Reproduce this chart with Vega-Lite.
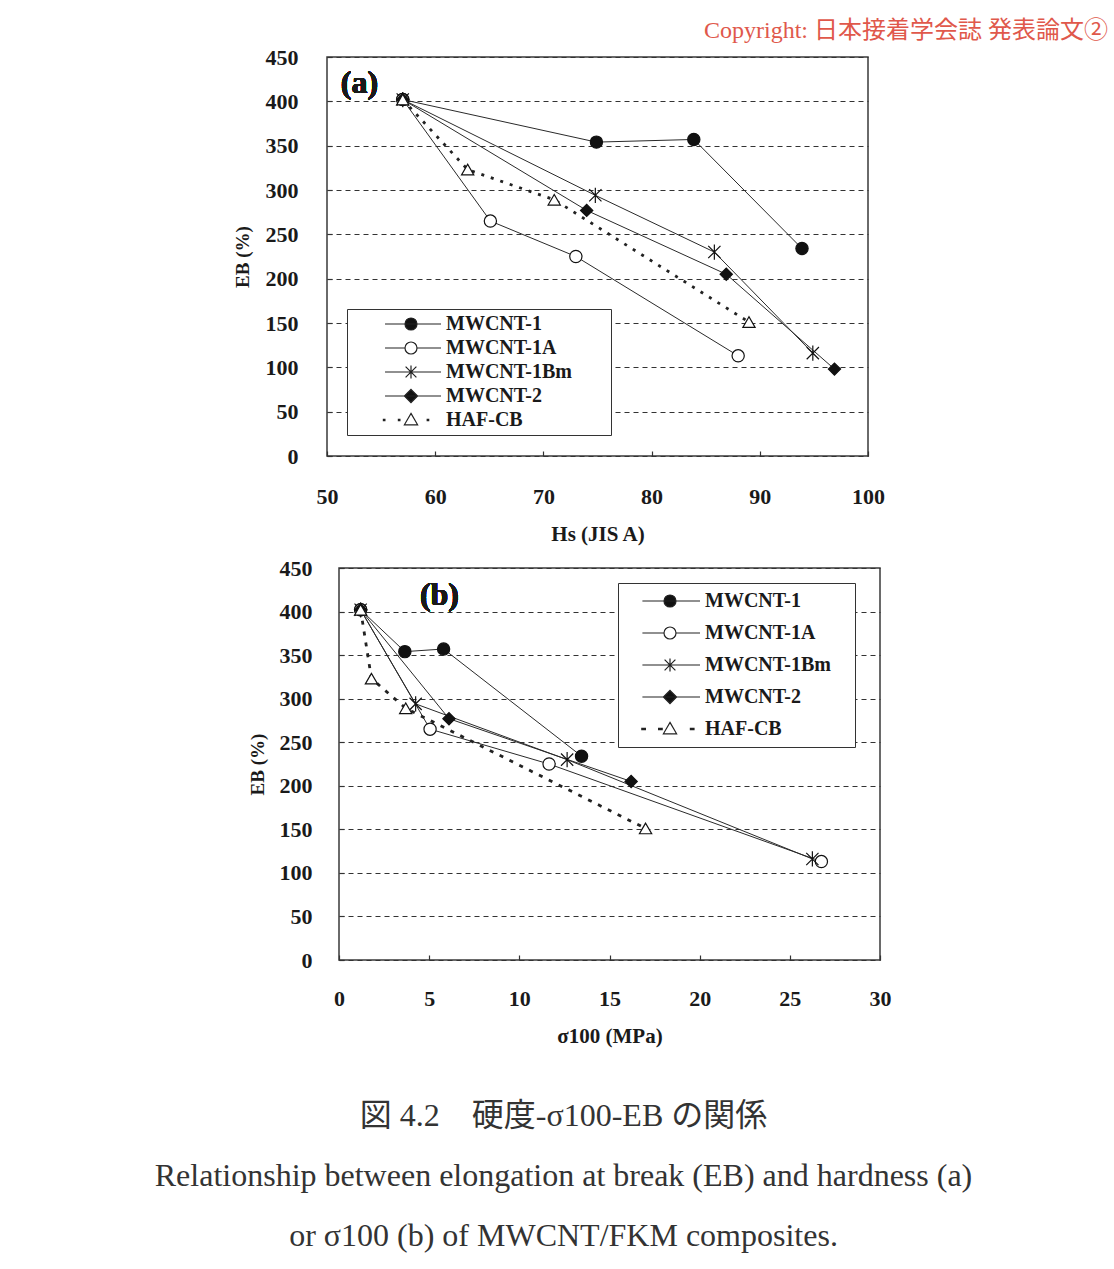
{
  "$schema": "https://vega.github.io/schema/vega-lite/v6.json",
  "autosize": {"type": "none"},
  "padding": {"left": 327, "top": 57, "right": 787, "bottom": 1212},
  "background": "white",
  "datasets": {
    "a": [
      {"series": "MWCNT-1", "x": 57, "eb": 402}, {"series": "MWCNT-1", "x": 74.9, "eb": 354}, {"series": "MWCNT-1", "x": 83.9, "eb": 357}, {"series": "MWCNT-1", "x": 93.9, "eb": 234},
      {"series": "MWCNT-1A", "x": 57, "eb": 402}, {"series": "MWCNT-1A", "x": 65.1, "eb": 265}, {"series": "MWCNT-1A", "x": 73.0, "eb": 225}, {"series": "MWCNT-1A", "x": 88.0, "eb": 113},
      {"series": "MWCNT-1Bm", "x": 57, "eb": 402}, {"series": "MWCNT-1Bm", "x": 74.8, "eb": 294}, {"series": "MWCNT-1Bm", "x": 85.8, "eb": 230}, {"series": "MWCNT-1Bm", "x": 94.9, "eb": 116},
      {"series": "MWCNT-2", "x": 57, "eb": 402}, {"series": "MWCNT-2", "x": 74.0, "eb": 277}, {"series": "MWCNT-2", "x": 86.9, "eb": 205}, {"series": "MWCNT-2", "x": 96.9, "eb": 98},
      {"series": "HAF-CB", "x": 57, "eb": 402}, {"series": "HAF-CB", "x": 63.0, "eb": 323}, {"series": "HAF-CB", "x": 71.0, "eb": 289}, {"series": "HAF-CB", "x": 89.0, "eb": 151}
    ],
    "b": [
      {"series": "MWCNT-1", "x": 1.2, "eb": 402}, {"series": "MWCNT-1", "x": 3.65, "eb": 354}, {"series": "MWCNT-1", "x": 5.8, "eb": 357}, {"series": "MWCNT-1", "x": 13.45, "eb": 234},
      {"series": "MWCNT-1A", "x": 1.2, "eb": 402}, {"series": "MWCNT-1A", "x": 5.05, "eb": 265}, {"series": "MWCNT-1A", "x": 11.65, "eb": 225}, {"series": "MWCNT-1A", "x": 26.75, "eb": 113},
      {"series": "MWCNT-1Bm", "x": 1.2, "eb": 402}, {"series": "MWCNT-1Bm", "x": 4.25, "eb": 294}, {"series": "MWCNT-1Bm", "x": 12.65, "eb": 230}, {"series": "MWCNT-1Bm", "x": 26.25, "eb": 116},
      {"series": "MWCNT-2", "x": 1.2, "eb": 402}, {"series": "MWCNT-2", "x": 6.1, "eb": 277}, {"series": "MWCNT-2", "x": 16.2, "eb": 205},
      {"series": "HAF-CB", "x": 1.2, "eb": 402}, {"series": "HAF-CB", "x": 1.8, "eb": 323}, {"series": "HAF-CB", "x": 3.7, "eb": 289}, {"series": "HAF-CB", "x": 17.0, "eb": 151}
    ]
  },
  "config": {
    "view": {"stroke": "#3a3a3a", "strokeWidth": 1.5},
    "font": "Liberation Serif",
    "axis": {
      "labelFont": "Liberation Serif", "labelFontWeight": "bold", "labelFontSize": 22, "labelColor": "#1a1a1a",
      "titleFont": "Liberation Serif", "titleFontWeight": "bold", "titleColor": "#1a1a1a",
      "domain": false, "tickColor": "#333", "tickSize": -5, "tickWidth": 1.2,
      "gridColor": "#333", "gridDash": [5, 4], "gridWidth": 1.1,
      "labelFlush": false, "labelOverlap": false
    },
    "axisX": {"grid": false, "labelPadding": 35, "titlePadding": 16, "titleFontSize": 21},
    "axisY": {"grid": true, "labelPadding": 34, "titleFontSize": 19},
    "legend": {
      "labelFont": "Liberation Serif", "labelFontWeight": "bold", "labelFontSize": 20, "labelColor": "#1a1a1a",
      "strokeColor": "#333", "fillColor": "white", "symbolSize": 144, "symbolStrokeWidth": 1.2, "symbolStrokeColor": "#222", "symbolOpacity": 1
    }
  },
  "resolve": {"scale": {"shape": "independent", "fill": "independent"}},
  "bounds": "flush",
  "spacing": 112,
  "vconcat": [
    {
      "width": 541,
      "height": 399,
      "title": {"text": "Copyright: 日本接着学会誌 発表論文②", "orient": "top", "anchor": "end", "frame": "group", "dx": 240, "offset": 3, "font": "Liberation Serif, Noto Sans CJK JP", "fontSize": 24, "fontWeight": "normal", "color": "#e0584b"},
      "data": {"name": "a"},
      "resolve": {"scale": {"shape": "independent", "fill": "independent"}},
      "layer": [
        {
          "transform": [{"filter": "datum.series !== 'HAF-CB'"}],
          "mark": {"type": "line", "stroke": "#2a2a2a", "strokeWidth": 1},
          "encoding": {
            "x": {"field": "x", "type": "quantitative", "scale": {"domain": [50, 100], "nice": false, "zero": false}, "axis": {"title": "Hs (JIS A)", "values": [50, 60, 70, 80, 90, 100]}},
            "y": {"field": "eb", "type": "quantitative", "scale": {"domain": [0, 450], "nice": false}, "axis": {"title": "EB (%)", "values": [0, 50, 100, 150, 200, 250, 300, 350, 400, 450], "titlePadding": 13}},
            "detail": {"field": "series"}
          }
        },
        {
          "transform": [{"filter": "datum.series === 'HAF-CB'"}],
          "mark": {"type": "line", "stroke": "#222", "strokeWidth": 2.8, "strokeDash": [3, 7]},
          "encoding": {
            "x": {"field": "x", "type": "quantitative"},
            "y": {"field": "eb", "type": "quantitative"}
          }
        },
        {
          "mark": {"type": "point", "filled": true, "size": 150, "stroke": "#111", "strokeWidth": 1.2, "opacity": 1},
          "encoding": {
            "x": {"field": "x", "type": "quantitative"},
            "y": {"field": "eb", "type": "quantitative"},
            "shape": {"field": "series", "type": "nominal", "legend": null, "scale": {"domain": ["MWCNT-1", "MWCNT-1A", "MWCNT-1Bm", "MWCNT-2", "HAF-CB"], "range": ["circle", "circle", "M-1,-1L1,1M-1,1L1,-1M0,-1.25V1.25", "diamond", "triangle-up"]}},
            "fill": {"field": "series", "type": "nominal", "legend": null, "scale": {"domain": ["MWCNT-1", "MWCNT-1A", "MWCNT-1Bm", "MWCNT-2", "HAF-CB"], "range": ["#111", "#fff", "#111", "#111", "#fff"]}}
          }
        },
        {
          "transform": [{"filter": "datum.eb < 0"}],
          "mark": {"type": "point", "filled": true, "size": 144, "stroke": "#222", "strokeWidth": 1.2},
          "encoding": {
            "x": {"field": "x", "type": "quantitative"},
            "y": {"field": "eb", "type": "quantitative"},
            "shape": {"field": "series", "type": "nominal",
              "legend": {"title": null, "orient": "none", "legendX": 20, "legendY": 252, "padding": 5, "rowPadding": 4, "symbolOffset": 49, "labelOffset": 25,
                "encode": {"symbols": {"update": {"stroke": {"value": "#222"}, "strokeWidth": {"value": 1.2}, "opacity": {"value": 1}}}}},
              "scale": {"domain": ["MWCNT-1", "MWCNT-1A", "MWCNT-1Bm", "MWCNT-2", "HAF-CB"], "range": [
                "M32,0M-4.33,0H5M1,0A1,1,0,1,1,-1,0A1,1,0,1,1,1,0Z",
                "M32,0M-4.33,0H-1M1,0H5M1,0A1,1,0,1,1,-1,0A1,1,0,1,1,1,0Z",
                "M32,0M-4.33,0H5M-0.9,-0.9L0.9,0.9M-0.9,0.9L0.9,-0.9M0,-1.1V1.1",
                "M32,0M-4.33,0H5M0,-1.1L1.1,0L0,1.1L-1.1,0Z",
                "M32,0M-4.6,-0.12H-4.35V0.12H-4.6ZM-2.1,-0.12H-1.85V0.12H-2.1ZM0,-1.1L1.1,0.8L-1.1,0.8ZM2.7,-0.12H2.95V0.12H2.7Z"
              ]}},
            "fill": {"field": "series", "type": "nominal",
              "legend": {"title": null, "orient": "none", "legendX": 20, "legendY": 252, "padding": 5, "rowPadding": 4, "symbolOffset": 49, "labelOffset": 25,
                "encode": {"symbols": {"update": {"stroke": {"value": "#222"}, "strokeWidth": {"value": 1.2}, "opacity": {"value": 1}}}}},
              "scale": {"domain": ["MWCNT-1", "MWCNT-1A", "MWCNT-1Bm", "MWCNT-2", "HAF-CB"], "range": ["#111", "#fff", "#111", "#111", "#fff"]}}
          }
        },
        {
          "mark": {"type": "text", "text": "(a)", "font": "Liberation Serif", "fontSize": 32, "fontWeight": "bold", "color": "#1a1a1a"},
          "encoding": {
            "x": {"datum": 53.0, "type": "quantitative"},
            "y": {"datum": 421, "type": "quantitative"}
          }
        }
      ]
    },
    {
      "bounds": "flush",
      "spacing": 11,
      "resolve": {"scale": {"shape": "independent", "fill": "independent"}},
      "hconcat": [
        {
          "width": 1,
          "height": 1,
          "view": {"stroke": null},
          "data": {"values": [{"x": 0}]},
          "mark": {"type": "point", "opacity": 0},
          "encoding": {}
        },
        {
          "width": 541,
          "height": 392,
          "title": {
            "text": "図 4.2　硬度-σ100-EB の関係",
            "subtitle": ["Relationship between elongation at break (EB) and hardness (a)", "or σ100 (b) of MWCNT/FKM composites."],
            "orient": "bottom", "anchor": "middle", "frame": "group", "dx": -46, "offset": 55,
            "font": "Liberation Serif, Noto Sans CJK JP", "fontSize": 32, "fontWeight": "normal", "color": "#333",
            "subtitleFont": "Liberation Serif", "subtitleFontSize": 32, "subtitleColor": "#333", "subtitleLineHeight": 60, "subtitlePadding": 28
          },
          "data": {"name": "b"},
          "resolve": {"scale": {"shape": "independent", "fill": "independent"}},
          "layer": [
            {
              "transform": [{"filter": "datum.series !== 'HAF-CB'"}],
              "mark": {"type": "line", "stroke": "#2a2a2a", "strokeWidth": 1},
              "encoding": {
                "x": {"field": "x", "type": "quantitative", "scale": {"domain": [0, 30], "nice": false, "zero": false}, "axis": {"title": "σ100 (MPa)", "values": [0, 5, 10, 15, 20, 25, 30], "labelPadding": 33}},
                "y": {"field": "eb", "type": "quantitative", "scale": {"domain": [0, 450], "nice": false}, "axis": {"title": "EB (%)", "values": [0, 50, 100, 150, 200, 250, 300, 350, 400, 450], "labelPadding": 32, "titlePadding": 12}},
                "detail": {"field": "series"}
              }
            },
            {
              "transform": [{"filter": "datum.series === 'HAF-CB'"}],
              "mark": {"type": "line", "stroke": "#222", "strokeWidth": 2.8, "strokeDash": [4, 7]},
              "encoding": {
                "x": {"field": "x", "type": "quantitative"},
                "y": {"field": "eb", "type": "quantitative"}
              }
            },
            {
              "mark": {"type": "point", "filled": true, "size": 150, "stroke": "#111", "strokeWidth": 1.2, "opacity": 1},
              "encoding": {
                "x": {"field": "x", "type": "quantitative"},
                "y": {"field": "eb", "type": "quantitative"},
                "shape": {"field": "series", "type": "nominal", "legend": null, "scale": {"domain": ["MWCNT-1", "MWCNT-1A", "MWCNT-1Bm", "MWCNT-2", "HAF-CB"], "range": ["circle", "circle", "M-1,-1L1,1M-1,1L1,-1M0,-1.25V1.25", "diamond", "triangle-up"]}},
                "fill": {"field": "series", "type": "nominal", "legend": null, "scale": {"domain": ["MWCNT-1", "MWCNT-1A", "MWCNT-1Bm", "MWCNT-2", "HAF-CB"], "range": ["#111", "#fff", "#111", "#111", "#fff"]}}
              }
            },
            {
              "transform": [{"filter": "datum.eb < 0"}],
              "mark": {"type": "point", "filled": true, "size": 144, "stroke": "#222", "strokeWidth": 1.2},
              "encoding": {
                "x": {"field": "x", "type": "quantitative"},
                "y": {"field": "eb", "type": "quantitative"},
                "shape": {"field": "series", "type": "nominal",
                  "legend": {"title": null, "orient": "none", "legendX": 279, "legendY": 15, "padding": 8, "rowPadding": 12, "symbolOffset": 34, "labelOffset": 25,
                    "encode": {"symbols": {"update": {"stroke": {"value": "#222"}, "strokeWidth": {"value": 1.2}, "opacity": {"value": 1}}}}},
                  "scale": {"domain": ["MWCNT-1", "MWCNT-1A", "MWCNT-1Bm", "MWCNT-2", "HAF-CB"], "range": [
                    "M29,0M-4.6,0H5M1,0A1,1,0,1,1,-1,0A1,1,0,1,1,1,0Z",
                    "M29,0M-4.6,0H-1M1,0H5M1,0A1,1,0,1,1,-1,0A1,1,0,1,1,1,0Z",
                    "M29,0M-4.6,0H5M-0.9,-0.9L0.9,0.9M-0.9,0.9L0.9,-0.9M0,-1.1V1.1",
                    "M29,0M-4.6,0H5M0,-1.1L1.1,0L0,1.1L-1.1,0Z",
                    "M29,0M-4.7,-0.1H-4.1V0.1H-4.7ZM-1.9,-0.1H-1.3V0.1H-1.9ZM0,-1.1L1.1,0.8L-1.1,0.8ZM3.4,-0.1H4.0V0.1H3.4Z"
                  ]}},
                "fill": {"field": "series", "type": "nominal",
                  "legend": {"title": null, "orient": "none", "legendX": 279, "legendY": 15, "padding": 8, "rowPadding": 12, "symbolOffset": 34, "labelOffset": 25,
                    "encode": {"symbols": {"update": {"stroke": {"value": "#222"}, "strokeWidth": {"value": 1.2}, "opacity": {"value": 1}}}}},
                  "scale": {"domain": ["MWCNT-1", "MWCNT-1A", "MWCNT-1Bm", "MWCNT-2", "HAF-CB"], "range": ["#111", "#fff", "#111", "#111", "#fff"]}}
              }
            },
            {
              "mark": {"type": "text", "text": "(b)", "font": "Liberation Serif", "fontSize": 32, "fontWeight": "bold", "color": "#1a1a1a"},
              "encoding": {
                "x": {"datum": 5.57, "type": "quantitative"},
                "y": {"datum": 419, "type": "quantitative"}
              }
            }
          ]
        }
      ]
    }
  ]
}
